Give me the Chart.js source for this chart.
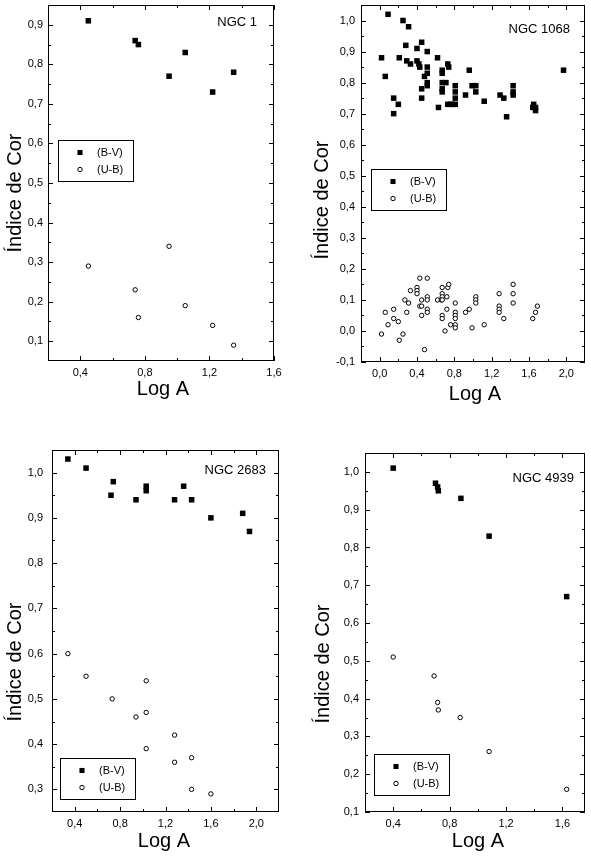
<!DOCTYPE html>
<html>
<head>
<meta charset="utf-8">
<script src="https://cdn.jsdelivr.net/npm/chart.js@4.4.1/dist/chart.umd.min.js"></script>
<style>
  body { margin: 0; background: #fff; }
  #wrap { position: relative; width: 591px; height: 859px; }
  canvas { position: absolute; }
</style>
</head>
<body>
<div id="wrap">
  <canvas id="c1" width="295" height="420" style="left:0;top:0"></canvas>
  <canvas id="c2" width="296" height="420" style="left:295px;top:0"></canvas>
  <canvas id="c3" width="295" height="419" style="left:0;top:440px"></canvas>
  <canvas id="c4" width="296" height="419" style="left:295px;top:440px"></canvas>
</div>
<script>
// NGC 1
const ngc1X = [0.45, 0.74, 0.76, 0.95, 1.05, 1.22, 1.35];
const ngc1BV = [0.91, 0.86, 0.85, 0.77, 0.83, 0.73, 0.78];
const ngc1UB = [0.29, 0.23, 0.16, 0.34, 0.19, 0.14, 0.09];
const ngc1XTicks = [0.4, 0.8, 1.2, 1.6];
const ngc1YTicks = [0.1, 0.2, 0.3, 0.4, 0.5, 0.6, 0.7, 0.8, 0.9];

// NGC 1068
const ngc1068BvX = [0.09, 0.02, 0.06, 0.15, 0.15, 0.20, 0.21, 0.25, 0.31, 0.28, 0.29, 0.33, 0.40, 0.40, 0.42,
  0.43, 0.45, 0.48, 0.45, 0.45, 0.51, 0.51, 0.51, 0.51, 0.51, 0.62, 0.63, 0.67, 0.67, 0.67, 0.67, 0.67,
  0.71, 0.73, 0.74, 0.73, 0.76, 0.78, 0.81, 0.81, 0.81, 0.81, 0.92, 0.96, 0.99, 1.03, 1.03, 1.12, 1.29,
  1.33, 1.36, 1.43, 1.43, 1.43, 1.64, 1.65, 1.67, 1.67, 1.97];
const ngc1068BvY = [1.02, 0.88, 0.82, 0.75, 0.70, 0.73, 0.88, 1.00, 0.98, 0.92, 0.87, 0.86, 0.91, 0.87, 0.86,
  0.85, 0.93, 0.82, 0.78, 0.75, 0.90, 0.85, 0.83, 0.80, 0.79, 0.88, 0.72, 0.84, 0.83, 0.80, 0.78, 0.77,
  0.80, 0.86, 0.85, 0.73, 0.73, 0.73, 0.79, 0.77, 0.75, 0.73, 0.76, 0.84, 0.79, 0.79, 0.77, 0.74, 0.76,
  0.75, 0.69, 0.79, 0.77, 0.76, 0.72, 0.73, 0.72, 0.71, 0.84];
const ngc1068UbX = [0.02, 0.06, 0.09, 0.15, 0.15, 0.20, 0.21, 0.25, 0.27, 0.29, 0.31, 0.33, 0.40, 0.40, 0.40,
  0.43, 0.43, 0.45, 0.45, 0.45, 0.48, 0.51, 0.51, 0.51, 0.51, 0.51, 0.62, 0.66, 0.67, 0.67, 0.67, 0.67,
  0.67, 0.67, 0.70, 0.72, 0.72, 0.73, 0.74, 0.76, 0.81, 0.81, 0.81, 0.81, 0.81, 0.81, 0.92, 0.96, 0.99,
  1.03, 1.03, 1.03, 1.12, 1.28, 1.28, 1.28, 1.28, 1.33, 1.43, 1.43, 1.43, 1.64, 1.67, 1.69];
const ngc1068UbY = [-0.01, 0.06, 0.02, 0.07, 0.04, 0.03, -0.03, -0.01, 0.10, 0.06, 0.09, 0.13, 0.14, 0.13, 0.12,
  0.17, 0.08, 0.08, 0.10, 0.05, -0.06, 0.17, 0.11, 0.10, 0.07, 0.06, 0.10, 0.10, 0.14, 0.12, 0.11, 0.10,
  0.05, 0.04, 0.00, 0.07, 0.11, 0.14, 0.15, 0.02, 0.09, 0.06, 0.05, 0.04, 0.02, 0.01, 0.06, 0.07, 0.01,
  0.11, 0.10, 0.09, 0.02, 0.12, 0.08, 0.07, 0.06, 0.04, 0.15, 0.12, 0.09, 0.04, 0.06, 0.08];
const ngc1068XTicks = [0.0, 0.4, 0.8, 1.2, 1.6, 2.0];
const ngc1068YTicks = [-0.1, 0.0, 0.1, 0.2, 0.3, 0.4, 0.5, 0.6, 0.7, 0.8, 0.9, 1.0];

// NGC 2683
const ngc2683BvX = [0.34, 0.50, 0.72, 0.74, 0.94, 1.03, 1.03, 1.28, 1.36, 1.43, 1.60, 1.88, 1.94];
const ngc2683BvY = [1.03, 1.01, 0.95, 0.98, 0.94, 0.97, 0.96, 0.94, 0.97, 0.94, 0.90, 0.91, 0.87];
const ngc2683UbX = [0.34, 0.50, 0.73, 0.94, 1.03, 1.03, 1.03, 1.28, 1.28, 1.43, 1.43, 1.60];
const ngc2683UbY = [0.60, 0.55, 0.50, 0.46, 0.54, 0.47, 0.39, 0.42, 0.36, 0.37, 0.30, 0.29];
const ngc2683XTicks = [0.4, 0.8, 1.2, 1.6, 2.0];
const ngc2683YTicks = [0.3, 0.4, 0.5, 0.6, 0.7, 0.8, 0.9, 1.0];

// NGC 4939
const ngc4939BvX = [0.40, 0.70, 0.715, 0.72, 0.88, 1.08, 1.63];
const ngc4939BvY = [1.01, 0.97, 0.96, 0.95, 0.93, 0.83, 0.67];
const ngc4939UbX = [0.40, 0.69, 0.715, 0.72, 0.875, 1.08, 1.63];
const ngc4939UbY = [0.51, 0.46, 0.39, 0.37, 0.35, 0.26, 0.16];
const ngc4939XTicks = [0.4, 0.8, 1.2, 1.6];
const ngc4939YTicks = [0.1, 0.2, 0.3, 0.4, 0.5, 0.6, 0.7, 0.8, 0.9, 1.0];

const FONT = "Arial, 'Liberation Sans', Helvetica, sans-serif";
Chart.defaults.font.family = FONT;
Chart.defaults.color = '#000';

const panels = [
  { id: 'c1', name: 'NGC 1', bv: [ngc1X, ngc1BV], ub: [ngc1X, ngc1UB],
    x: [0.2, 1.6, ngc1XTicks], y: [0.05, 0.95, ngc1YTicks],
    pad: { top: 1, right: 21 }, yW: 48, xH: 59, yPad: 5,
    nameAt: [257, 22], yTitleAt: [15, 193], xTitleAt: [163, 389], legendAt: [58, 140] },
  { id: 'c2', name: 'NGC 1068', bv: [ngc1068BvX, ngc1068BvY], ub: [ngc1068UbX, ngc1068UbY],
    x: [-0.2, 2.2, ngc1068XTicks], y: [-0.1, 1.05, ngc1068YTicks],
    pad: { top: 3, right: 6 }, yW: 66, xH: 58, yPad: 6,
    nameAt: [275, 29], yTitleAt: [27, 200], xTitleAt: [180, 394], legendAt: [76, 169] },
  { id: 'c3', name: 'NGC 2683', bv: [ngc2683BvX, ngc2683BvY], ub: [ngc2683UbX, ngc2683UbY],
    x: [0.2, 2.2, ngc2683XTicks], y: [0.25, 1.05, ngc2683YTicks],
    pad: { top: 10, right: 16 }, yW: 52, xH: 47, yPad: 9,
    nameAt: [266, 30], yTitleAt: [15, 222], xTitleAt: [164, 401], legendAt: [60, 318] },
  { id: 'c4', name: 'NGC 4939', bv: [ngc4939BvX, ngc4939BvY], ub: [ngc4939UbX, ngc4939UbY],
    x: [0.2, 1.76, ngc4939XTicks], y: [0.1, 1.05, ngc4939YTicks],
    pad: { top: 13, right: 6 }, yW: 70, xH: 47, yPad: 6,
    nameAt: [279, 38], yTitleAt: [28, 224], xTitleAt: [183, 401], legendAt: [79, 314] }
];

function toPoints(xs, ys) {
  return xs.map((x, i) => ({ x: x, y: ys[i] }));
}

function fmt(v) {
  return v.toFixed(1).replace('.', ',');
}

// major ticks from the scale, one minor tick halfway between
function marks(scale) {
  const v = scale.ticks.map(t => t.value);
  const step = v[1] - v[0];
  const out = v.map(t => [t, 5]);
  for (let i = -1; i < v.length; i++) {
    const m = v[0] + (i + 0.5) * step;
    if (m > scale.min + 1e-6 && m < scale.max - 1e-6) out.push([m, 3]);
  }
  return out;
}

const decor = {
  id: 'decor',
  afterDraw(chart, args, p) {
    const { ctx, chartArea: a, scales: { x, y } } = chart;
    ctx.save();
    ctx.strokeStyle = '#000';
    ctx.fillStyle = '#000';
    ctx.lineWidth = 1;
    ctx.strokeRect(a.left + 0.5, a.top + 0.5, a.right - a.left - 1, a.bottom - a.top - 1);

    ctx.beginPath();
    for (const [v, len] of marks(x)) {
      const px = Math.round(x.getPixelForValue(v)) + 0.5;
      ctx.moveTo(px, a.bottom);
      ctx.lineTo(px, a.bottom - len);
      ctx.moveTo(px, a.top);
      ctx.lineTo(px, a.top + len);
    }
    for (const [v, len] of marks(y)) {
      const py = Math.round(y.getPixelForValue(v)) + 0.5;
      ctx.moveTo(a.left, py);
      ctx.lineTo(a.left + len, py);
      ctx.moveTo(a.right, py);
      ctx.lineTo(a.right - len, py);
    }
    ctx.stroke();

    // axis titles
    ctx.font = '20px ' + FONT;
    ctx.textAlign = 'center';
    ctx.textBaseline = 'middle';
    ctx.fillText('Log A', p.xTitleAt[0], p.xTitleAt[1]);
    ctx.save();
    ctx.translate(p.yTitleAt[0], p.yTitleAt[1]);
    ctx.rotate(-Math.PI / 2);
    ctx.fillText('Índice de Cor', 0, 0);
    ctx.restore();

    // galaxy name
    ctx.font = '13px ' + FONT;
    ctx.textAlign = 'right';
    ctx.fillText(p.name, p.nameAt[0], p.nameAt[1]);

    // legend box
    const [lx, ly] = p.legendAt;
    ctx.strokeRect(lx + 0.5, ly + 0.5, 75, 41);
    ctx.font = '11px ' + FONT;
    ctx.textAlign = 'left';
    chart.data.datasets.forEach((ds, i) => {
      const my = ly + 12.5 + i * 17;
      ctx.fillStyle = ds.pointBackgroundColor;
      ctx.strokeStyle = ds.pointBorderColor;
      ctx.lineWidth = ds.pointBorderWidth;
      Chart.helpers.drawPoint(ctx, {
        pointStyle: ds.pointStyle,
        radius: ds.pointStyle === 'rect' ? 3.6 : 2.2,
        borderWidth: ds.pointBorderWidth,
        rotation: 0
      }, lx + 22, my);
      ctx.fillStyle = '#000';
      ctx.fillText(ds.label, lx + 39, my);
    });
    ctx.restore();
  }
};

for (const p of panels) {
  new Chart(document.getElementById(p.id), {
    type: 'scatter',
    data: {
      datasets: [
        {
          label: '(B-V)',
          data: toPoints(p.bv[0], p.bv[1]),
          pointStyle: 'rect',
          pointRadius: 3.9,
          pointBackgroundColor: '#000',
          pointBorderColor: '#000',
          pointBorderWidth: 0
        },
        {
          label: '(U-B)',
          data: toPoints(p.ub[0], p.ub[1]),
          pointStyle: 'circle',
          pointRadius: 2.2,
          pointBackgroundColor: '#fff',
          pointBorderColor: '#000',
          pointBorderWidth: 1
        }
      ]
    },
    options: {
      responsive: false,
      animation: false,
      events: [],
      layout: { padding: { left: 0, top: p.pad.top, right: p.pad.right, bottom: 0 } },
      scales: {
        x: {
          type: 'linear',
          min: p.x[0],
          max: p.x[1],
          grid: { display: false, drawTicks: false },
          border: { display: false },
          ticks: { padding: 5, font: { size: 11 }, autoSkip: false, maxRotation: 0, callback: fmt },
          afterBuildTicks: s => { s.ticks = p.x[2].map(value => ({ value })); },
          afterFit: s => { s.height = p.xH; s.paddingLeft = 0; s.paddingRight = 0; }
        },
        y: {
          type: 'linear',
          min: p.y[0],
          max: p.y[1],
          grid: { display: false, drawTicks: false },
          border: { display: false },
          ticks: { padding: p.yPad, font: { size: 11 }, autoSkip: false, callback: fmt },
          afterBuildTicks: s => { s.ticks = p.y[2].map(value => ({ value })); },
          afterFit: s => { s.width = p.yW; s.paddingTop = 0; s.paddingBottom = 0; }
        }
      },
      plugins: {
        legend: { display: false },
        tooltip: { enabled: false },
        decor: p
      }
    },
    plugins: [decor]
  });
}
</script>
</body>
</html>
